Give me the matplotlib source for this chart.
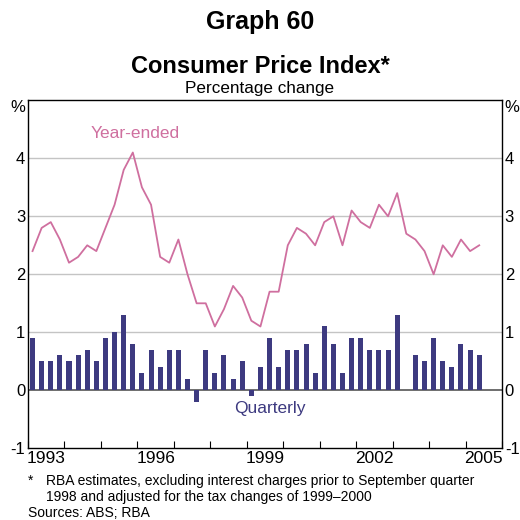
import matplotlib.pyplot as plt
import numpy as np

plt.rcParams['font.family'] = ['Liberation Sans', 'DejaVu Sans']

# quarterly data, March quarter 1993 to June quarter 2005
quarterly = [0.9, 0.5, 0.5, 0.6, 0.5, 0.6, 0.7, 0.5, 0.9, 1.0,
             1.3, 0.8, 0.3, 0.7, 0.4, 0.7, 0.7, 0.2, -0.2, 0.7,
             0.3, 0.6, 0.2, 0.5, -0.1, 0.4, 0.9, 0.4, 0.7, 0.7,
             0.8, 0.3, 1.1, 0.8, 0.3, 0.9, 0.9, 0.7, 0.7, 0.7,
             1.3, 0.0, 0.6, 0.5, 0.9, 0.5, 0.4, 0.8, 0.7, 0.6]
year_ended = [2.4, 2.8, 2.9, 2.6, 2.2, 2.3, 2.5, 2.4, 2.8, 3.2,
              3.8, 4.1, 3.5, 3.2, 2.3, 2.2, 2.6, 2.0, 1.5, 1.5,
              1.1, 1.4, 1.8, 1.6, 1.2, 1.1, 1.7, 1.7, 2.5, 2.8,
              2.7, 2.5, 2.9, 3.0, 2.5, 3.1, 2.9, 2.8, 3.2, 3.0,
              3.4, 2.7, 2.6, 2.4, 2.0, 2.5, 2.3, 2.6, 2.4, 2.5]
years = ['1993', '1996', '1999', '2002', '2005']
first_year = 1993

bar_col = '#3d3a80'
line_col = '#cf6f9f'

fig = plt.figure(figsize=(5.2, 5.2), dpi=100)
ax = fig.add_axes([0.0538, 0.1379, 0.9116, 0.6692])

x = np.arange(len(quarterly)) + 0.5
ax.bar(x, quarterly, width=0.55, color=bar_col, zorder=3)
ax.plot(x, year_ended, color=line_col, lw=1.3, zorder=4)

ax.set_xlim(0, 52)
ax.set_ylim(-1, 5)
for v in [1, 2, 3, 4]:
    ax.axhline(v, color='#c4c4c4', lw=1.0, zorder=1)
ax.axhline(0, color='#555555', lw=1.2, zorder=2)

# year ticks inward at boundaries, labels at year centres
ax.set_xticks(np.arange(0, 53, 4), minor=True)
ax.set_xticks([(int(y) - first_year) * 4 + 2 for y in years])
ax.set_xticklabels(years, fontsize=12.5)
ax.tick_params(axis='x', which='major', length=0, pad=2)
ax.tick_params(axis='x', which='minor', direction='in', length=5, width=0.8)

yt = [-1, 0, 1, 2, 3, 4, 5]
ylab = ['-1', '0', '1', '2', '3', '4', '%']
ax.set_yticks(yt)
ax.set_yticklabels(ylab, fontsize=12)
ax.tick_params(axis='y', length=0, pad=2, labelleft=True, labelright=True)
for lbl in ax.get_yticklabels():
    if lbl.get_text() == '%':
        lbl.set_va('top')

for s in ax.spines.values():
    s.set_linewidth(1.0)
    s.set_color('black')

ax.text(11.8, 4.42, 'Year-ended', color=line_col, fontsize=12.5, ha='center', va='center')
ax.text(26.5, -0.32, 'Quarterly', color=bar_col, fontsize=12.5, ha='center', va='center')

fig.text(0.5, 0.957, 'Graph 60', fontsize=18, fontweight='bold', ha='center', va='center')
fig.text(0.5, 0.872, 'Consumer Price Index*', fontsize=17, fontweight='bold', ha='center', va='center')
fig.text(0.5, 0.830, 'Percentage change', fontsize=12.3, ha='center', va='center')

fig.text(0.054, 0.075, '*', fontsize=10, ha='left', va='center')
fig.text(0.088, 0.075, 'RBA estimates, excluding interest charges prior to September quarter',
         fontsize=10, ha='left', va='center')
fig.text(0.088, 0.044, '1998 and adjusted for the tax changes of 1999\u20132000',
         fontsize=10, ha='left', va='center')
fig.text(0.054, 0.014, 'Sources: ABS; RBA', fontsize=10, ha='left', va='center')

fig.savefig('out.png', dpi=100)
